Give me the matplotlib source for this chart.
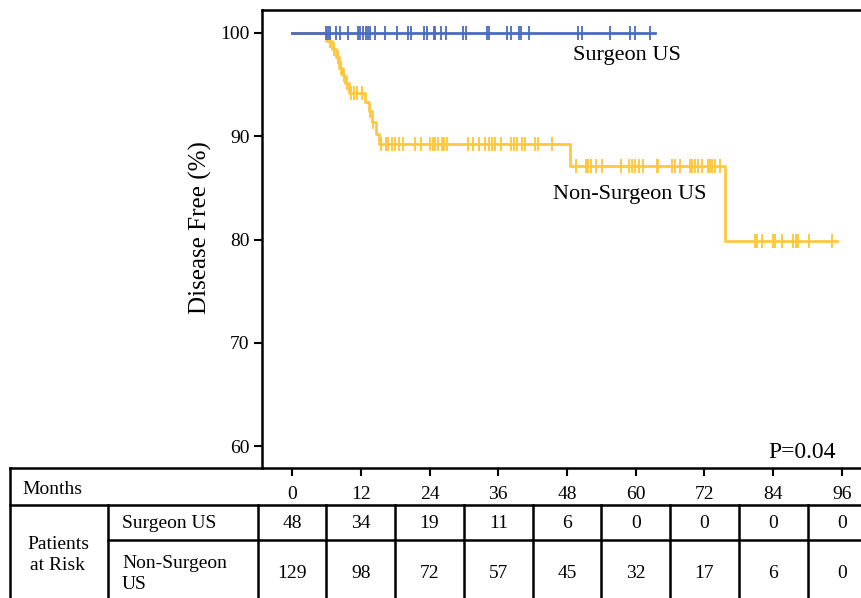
import numpy as np
import matplotlib
matplotlib.use("Agg")
import matplotlib.pyplot as plt

plt.rcParams['font.family'] = ['Liberation Serif', 'DejaVu Serif']

# Kaplan-Meier steps (months, % disease free)
surg_end = 63.3
surg_censor = [5.9, 6.2, 6.6, 7.7, 8.3, 9.8, 11.5, 11.9, 12.4, 12.9, 13.3, 13.7,
               14.5, 16.2, 18.4, 20.2, 20.8, 23.0, 23.6, 24.7, 25.0, 26.0, 26.8,
               29.8, 30.4, 34.0, 34.3, 37.5, 38.2, 39.6, 39.9, 41.4, 50.0, 50.6,
               55.5, 59.0, 59.9, 62.5]

ns_times = [0, 6.0, 7.0, 7.6, 8.2, 8.7, 9.3, 10.0, 12.8, 13.4, 14.0, 14.6, 15.2, 48.5, 75.5]
ns_surv = [100, 99.2, 98.4, 97.7, 96.6, 95.9, 95.1, 94.2, 93.3, 92.4, 91.4, 90.2, 89.2, 87.1, 79.9]
ns_end = 95.1
ns_censor = [6.6, 7.4, 8.0, 8.5, 9.0, 9.6, 10.3, 10.8, 11.4, 12.2, 13.7, 14.2,
             15.6, 16.4, 16.8, 17.4, 18.0, 18.6, 19.3, 21.5, 22.5, 24.1, 24.6,
             25.0, 25.5, 26.1, 26.5, 27.0, 30.7, 31.6, 32.7, 33.7, 34.3, 34.9,
             35.4, 36.4, 38.3, 38.7, 39.2, 40.1, 40.7, 42.5, 42.9, 45.3,
             49.5, 51.3, 51.7, 52.2, 53.0, 54.1, 57.5, 58.9, 59.3, 59.8, 60.6,
             61.3, 63.7, 63.9, 66.3, 66.9, 67.8, 69.5, 69.9, 70.3, 70.9, 71.5,
             72.7, 73.0, 73.3, 73.8, 74.7,
             80.8, 81.2, 82.0, 83.9, 84.3, 85.6, 87.5, 87.9, 88.3, 90.3, 94.3]

months = [0, 12, 24, 36, 48, 60, 72, 84, 96]
risk_surg = [48, 34, 19, 11, 6, 0, 0, 0, 0]
risk_ns = [129, 98, 72, 57, 45, 32, 17, 6, 0]

blue = '#4A6BC1'
gold = '#FFC843'

W, H = 862, 598
fig = plt.figure(figsize=(W / 100, H / 100), dpi=100)
ax = fig.add_axes([262 / W, 1 - 468 / H, 600 / W, 458 / H])

# surgeon curve
ax.plot([0, surg_end], [100, 100], color=blue, lw=2, zorder=3)
ax.plot(surg_censor, [100] * len(surg_censor), '|', color=blue, ms=10, mew=1.3, zorder=3)

# non-surgeon curve
xs = list(ns_times) + [ns_end]
ys = list(ns_surv) + [ns_surv[-1]]
ax.step(xs, ys, where='post', color=gold, lw=2, zorder=2)
idx = np.searchsorted(ns_times, ns_censor, side='right') - 1
ax.plot(ns_censor, np.array(ns_surv)[idx], '|', color=gold, ms=10, mew=1.4, zorder=2)

ax.set_xlim(-5.24, 99.5)
ax.set_ylim(57.9, 102.2)
ax.set_yticks([60, 70, 80, 90, 100])
ax.set_xticks(months)
ax.tick_params(axis='y', direction='out', length=6, width=1.5, labelsize=14, pad=3)
ax.tick_params(axis='x', direction='out', length=6, width=1.5, labelsize=14, pad=7)
ax.spines['right'].set_visible(False)
ax.spines['bottom'].set_visible(False)
ax.spines['left'].set_linewidth(1.8)
ax.spines['top'].set_linewidth(1.8)
ax.set_ylabel('Disease Free (%)', fontsize=18, labelpad=6)
ax.yaxis.label.set_y(0.525)

ax.text(58.5, 97.8, 'Surgeon US', fontsize=16, ha='center', va='center')
ax.text(59.0, 84.4, 'Non-Surgeon US', fontsize=16, ha='center', va='center')
ax.text(95.0, 59.4, 'P=0.04', fontsize=17, ha='right', va='center')

# number-at-risk table
tax = fig.add_axes([10 / W, 0, 852 / W, 1 - 468 / H])
tax.set_xlim((10 - 292) / 5.729, 99.5)
tax.set_ylim(598, 468)
tax.axis('off')
lk = dict(color='black', lw=1.8, clip_on=False)
x_left, x_lab, x_right = tax.get_xlim()[0], (108 - 292) / 5.729, 99.5
tax.plot([x_left, x_right], [468, 468], **lk)
tax.plot([x_left, x_right], [505, 505], **lk)
tax.plot([x_lab, x_right], [540, 540], **lk)
tax.plot([x_left, x_left], [468, 600], **lk)
tax.plot([x_lab, x_lab], [505, 600], **lk)
for m in months:
    tax.plot([m - 6, m - 6], [505, 600], **lk)

tax.text((22 - 292) / 5.729, 489, 'Months', fontsize=14, ha='left', va='center')
tax.text((58 - 292) / 5.729, 555, 'Patients\nat Risk', fontsize=14, ha='center', va='center',
         linespacing=1.35)
tax.text((122 - 292) / 5.729, 523, 'Surgeon US', fontsize=14, ha='left', va='center')
tax.text((122 - 292) / 5.729, 574, 'Non-Surgeon\nUS', fontsize=14, ha='left', va='center',
         linespacing=1.35)
for m, a, b in zip(months, risk_surg, risk_ns):
    tax.text(m, 524, str(a), fontsize=14, ha='center', va='center')
    tax.text(m, 573, str(b), fontsize=14, ha='center', va='center')

fig.savefig('out.png', dpi=100)
